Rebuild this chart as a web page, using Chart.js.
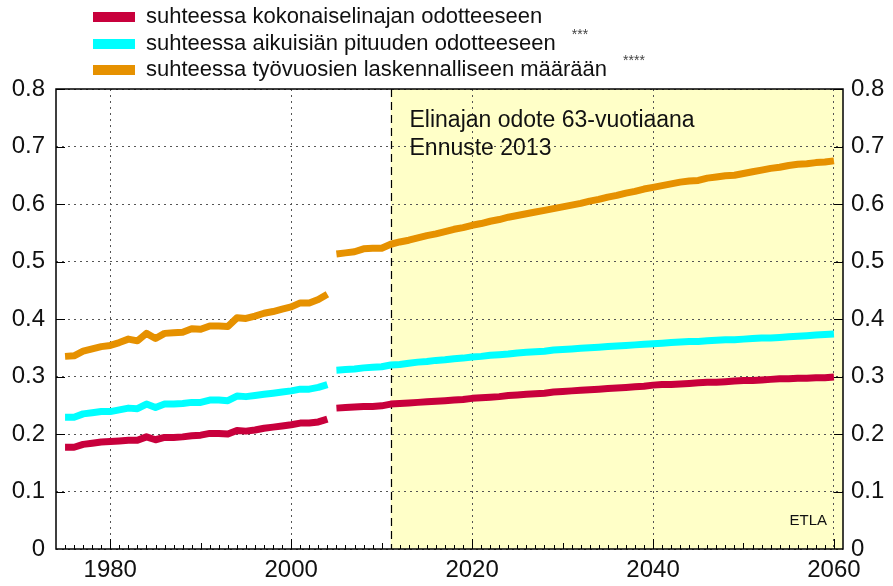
<!DOCTYPE html>
<html>
<head>
<meta charset="UTF-8">
<title>Elinajan odote 63-vuotiaana</title>
<script src="https://cdn.jsdelivr.net/npm/chart.js"></script>
<style>
  html, body { margin: 0; padding: 0; background: #fff; }
  canvas { display: block; }
</style>
</head>
<body>
<canvas id="chart" width="893" height="586"></canvas>
<script>
  // years: history 1975-2004, forecast 2005-2060
  const range = (a, b) => Array.from({ length: b - a + 1 }, (_, i) => a + i);
  const histYears = range(1975, 2004);
  const foreYears = range(2005, 2060);
  const xTickLabels = [1980, 2000, 2020, 2040, 2060];
  const forecastStart = 2011;

  const seriesNames = [
    'suhteessa kokonaiselinajan odotteeseen',
    'suhteessa aikuisiän pituuden odotteeseen',
    'suhteessa työvuosien laskennalliseen määrään'
  ];
  const seriesNotes = ['', '***', '****'];
  const seriesColors = ['#C8003C', '#00FFFF', '#E69100'];

  const redHist = [0.177, 0.177, 0.182, 0.184, 0.186, 0.187, 0.188, 0.189, 0.189, 0.195,
    0.190, 0.194, 0.194, 0.195, 0.197, 0.198, 0.201, 0.201, 0.200, 0.206,
    0.205, 0.207, 0.210, 0.212, 0.214, 0.216, 0.219, 0.219, 0.221, 0.226];
  const cyanHist = [0.229, 0.229, 0.235, 0.237, 0.239, 0.239, 0.242, 0.245, 0.244, 0.252,
    0.246, 0.252, 0.252, 0.253, 0.255, 0.255, 0.259, 0.259, 0.258, 0.266,
    0.265, 0.267, 0.269, 0.271, 0.273, 0.275, 0.278, 0.278, 0.281, 0.286];
  const orangeHist = [0.335, 0.336, 0.344, 0.348, 0.352, 0.354, 0.359, 0.365, 0.362, 0.375,
    0.366, 0.375, 0.376, 0.377, 0.383, 0.382, 0.388, 0.388, 0.387, 0.402,
    0.401, 0.405, 0.410, 0.413, 0.417, 0.421, 0.428, 0.428, 0.434, 0.443];

  const redFore = [0.245, 0.246, 0.247, 0.248, 0.248, 0.249, 0.252, 0.253, 0.254, 0.255,
    0.256, 0.257, 0.258, 0.259, 0.260, 0.262, 0.263, 0.264, 0.265, 0.267,
    0.268, 0.269, 0.270, 0.271, 0.273, 0.274, 0.275, 0.276, 0.277, 0.278,
    0.279, 0.280, 0.281, 0.282, 0.283, 0.285, 0.286, 0.286, 0.287, 0.288,
    0.289, 0.290, 0.290, 0.291, 0.292, 0.293, 0.293, 0.294, 0.295, 0.296,
    0.296, 0.297, 0.297, 0.298, 0.298, 0.299];
  const cyanFore = [0.311, 0.312, 0.313, 0.315, 0.316, 0.317, 0.320, 0.321, 0.323, 0.325,
    0.326, 0.328, 0.329, 0.331, 0.332, 0.334, 0.335, 0.337, 0.338, 0.339,
    0.341, 0.342, 0.343, 0.344, 0.346, 0.347, 0.348, 0.349, 0.350, 0.351,
    0.352, 0.353, 0.354, 0.355, 0.356, 0.357, 0.358, 0.359, 0.360, 0.361,
    0.361, 0.362, 0.363, 0.364, 0.364, 0.365, 0.366, 0.367, 0.367, 0.368,
    0.369, 0.370, 0.371, 0.372, 0.373, 0.374];
  const orangeFore = [0.513, 0.515, 0.517, 0.522, 0.523, 0.523, 0.530, 0.534, 0.537, 0.541,
    0.545, 0.548, 0.552, 0.556, 0.559, 0.563, 0.566, 0.570, 0.573, 0.577,
    0.580, 0.583, 0.586, 0.589, 0.592, 0.595, 0.598, 0.601, 0.605, 0.608,
    0.612, 0.615, 0.619, 0.622, 0.626, 0.629, 0.632, 0.635, 0.638, 0.640,
    0.641, 0.645, 0.647, 0.649, 0.650, 0.653, 0.656, 0.659, 0.662, 0.664,
    0.667, 0.669, 0.670, 0.672, 0.673, 0.675];

  // history and forecast are separate pieces, so a null point breaks the line
  function joinSeries(hist, fore) {
    const pts = histYears.map((yr, i) => ({ x: yr, y: hist[i] }));
    pts.push({ x: 2004.5, y: null });
    foreYears.forEach((yr, i) => pts.push({ x: yr, y: fore[i] }));
    return pts;
  }

  const seriesData = [
    joinSeries(redHist, redFore),
    joinSeries(cyanHist, cyanFore),
    joinSeries(orangeHist, orangeFore)
  ];

  const FONT = '"Liberation Sans", Arial, sans-serif';

  const decor = {
    id: 'decor',
    beforeDraw(chart) {
      const { ctx, chartArea: a, scales: { x } } = chart;
      const xs = x.getPixelForValue(forecastStart);
      ctx.save();
      ctx.fillStyle = '#FFFFC8';
      ctx.fillRect(xs, a.top, a.right - xs, a.bottom - a.top);
      ctx.restore();
    },
    beforeDatasetsDraw(chart) {
      const { ctx, chartArea: a, scales: { x } } = chart;
      const xs = Math.round(x.getPixelForValue(forecastStart)) + 0.5;
      ctx.save();
      ctx.strokeStyle = '#000';
      ctx.lineWidth = 1.2;
      ctx.setLineDash([8, 5]);
      ctx.beginPath();
      ctx.moveTo(xs, a.top);
      ctx.lineTo(xs, a.bottom);
      ctx.stroke();
      ctx.setLineDash([]);
      ctx.fillStyle = '#111';
      ctx.font = '23px ' + FONT;
      ctx.textBaseline = 'alphabetic';
      ctx.fillText('Elinajan odote 63-vuotiaana', xs + 18, a.top + 38);
      ctx.fillText('Ennuste 2013', xs + 18, a.top + 66);
      ctx.font = '15px ' + FONT;
      ctx.textAlign = 'right';
      ctx.fillText('ETLA', a.right - 16, a.bottom - 24);
      ctx.restore();
    },
    afterDraw(chart) {
      const { ctx, chartArea: a, scales: { x, y } } = chart;
      ctx.save();
      ctx.strokeStyle = '#000';
      ctx.lineWidth = 1.5;
      ctx.strokeRect(a.left, a.top, a.right - a.left, a.bottom - a.top);
      ctx.lineWidth = 1;
      ctx.beginPath();
      // y ticks inside, both sides
      for (let v = 0.1; v < 0.8; v += 0.1) {
        const py = Math.round(y.getPixelForValue(v)) + 0.5;
        ctx.moveTo(a.left, py); ctx.lineTo(a.left + 9, py);
        ctx.moveTo(a.right, py); ctx.lineTo(a.right - 9, py);
      }
      // x ticks inside: yearly minor, 10-year mid, 20-year major
      for (let yr = 1975; yr <= 2060; yr++) {
        const px = Math.round(x.getPixelForValue(yr)) + 0.5;
        const len = yr % 20 === 0 ? 10 : (yr % 10 === 0 ? 6 : 4);
        ctx.moveTo(px, a.bottom); ctx.lineTo(px, a.bottom - len);
      }
      ctx.stroke();

      // legend
      ctx.textBaseline = 'middle';
      const rows = [17, 44, 70];
      seriesNames.forEach((name, i) => {
        ctx.fillStyle = seriesColors[i];
        ctx.fillRect(93, rows[i] - 5, 42, 10);
        ctx.fillStyle = '#111';
        ctx.font = '22px ' + FONT;
        ctx.fillText(name, 146, rows[i]);
        if (seriesNotes[i]) {
          const w = ctx.measureText(name).width;
          ctx.font = '14px ' + FONT;
          ctx.fillStyle = '#444';
          ctx.fillText(seriesNotes[i], 146 + w + 16, rows[i] - 9);
        }
      });
      ctx.restore();
    }
  };

  const gridColor = '#555';
  const tickFont = { family: FONT, size: 24 };

  new Chart(document.getElementById('chart'), {
    type: 'line',
    data: {
      datasets: seriesData.map((d, i) => ({
        label: seriesNames[i],
        data: d,
        borderColor: seriesColors[i],
        backgroundColor: seriesColors[i],
        borderWidth: 7,
        borderCapStyle: 'butt',
        borderJoinStyle: 'round',
        pointRadius: 0,
        tension: 0,
        spanGaps: false,
        fill: false
      }))
    },
    options: {
      responsive: false,
      animation: false,
      layout: { padding: { top: 89, left: 0, right: 0, bottom: 0 } },
      plugins: { legend: { display: false }, tooltip: { enabled: false } },
      scales: {
        x: {
          type: 'linear',
          min: 1974,
          max: 2061,
          afterBuildTicks: s => { s.ticks = xTickLabels.map(v => ({ value: v })); },
          afterFit: s => { s.height = 37; },
          grid: { color: gridColor, lineWidth: 1, drawTicks: false },
          border: { display: false, dash: [2, 4] },
          ticks: { padding: 7, color: '#111', font: tickFont, callback: v => String(v), maxRotation: 0 }
        },
        y: {
          position: 'left',
          min: 0,
          max: 0.8,
          afterFit: s => { s.width = 56; },
          grid: { color: gridColor, lineWidth: 1, drawTicks: false },
          border: { display: false, dash: [2, 4] },
          ticks: { stepSize: 0.1, padding: 11, color: '#111', font: tickFont, callback: v => String(Math.round(v * 10) / 10) }
        },
        y2: {
          position: 'right',
          min: 0,
          max: 0.8,
          afterFit: s => { s.width = 50; },
          grid: { drawOnChartArea: false, drawTicks: false },
          border: { display: false },
          ticks: { stepSize: 0.1, padding: 8, color: '#111', font: tickFont, callback: v => String(Math.round(v * 10) / 10) }
        }
      }
    },
    plugins: [decor]
  });
</script>
</body>
</html>
